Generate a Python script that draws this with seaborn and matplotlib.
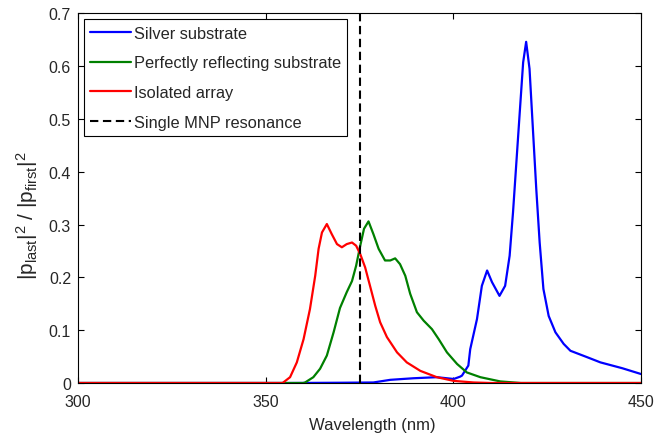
import matplotlib
matplotlib.use("Agg")
import matplotlib.pyplot as plt
import numpy as np
import pandas as pd
import seaborn as sns

# ---------------- data ----------------
silver_nm = [300, 356, 370, 378.7, 383.2, 389.4, 395.6, 400.1, 401.8, 402.3, 404.0,
             404.5, 406.3, 407.6, 409.0, 410.3, 412.3, 413.8, 415.0, 415.9, 416.8,
             417.7, 418.6, 419.4, 420.3, 421.2, 422.1, 423.0, 424.0, 425.4, 427.2,
             429.4, 431.2, 435.6, 439.2, 445.0, 450]
silver_val = [0.0, 0.0, 0.0005, 0.001, 0.006, 0.009, 0.011, 0.0076, 0.012, 0.014, 0.033,
              0.064, 0.121, 0.184, 0.213, 0.191, 0.165, 0.184, 0.241, 0.323, 0.418,
              0.513, 0.607, 0.646, 0.595, 0.481, 0.367, 0.266, 0.178, 0.127, 0.096,
              0.074, 0.061, 0.049, 0.039, 0.028, 0.017]

perfect_nm = [300, 360.0, 360.5, 362.7, 364.5, 366.3, 368.1, 369.8, 371.6, 373.0,
              374.1, 375.2, 376.2, 377.4, 378.7, 380.1, 381.8, 383.2, 384.5, 385.8,
              387.2, 388.5, 390.3, 392.1, 394.3, 396.1, 398.3, 401.0, 403.6, 407.2,
              412.5, 418, 450]
perfect_val = [0.0, 0.0, 0.001, 0.011, 0.027, 0.052, 0.096, 0.142, 0.172, 0.193,
               0.222, 0.260, 0.292, 0.306, 0.282, 0.254, 0.232, 0.232, 0.236, 0.225,
               0.203, 0.169, 0.134, 0.118, 0.102, 0.083, 0.058, 0.036, 0.020, 0.011,
               0.003, 0.0, 0.0]

isolated_nm = [300, 354.5, 356.5, 358.3, 360.1, 361.8, 363.2, 364.1, 365.0, 366.3,
               367.6, 369.0, 370.3, 371.6, 373.0, 374.1, 375.2, 376.5, 377.8, 379.2,
               380.5, 382.3, 385.0, 387.6, 391.2, 395.6, 400.1, 405.4, 410, 450]
isolated_val = [0.0, 0.0, 0.011, 0.039, 0.083, 0.140, 0.203, 0.254, 0.285, 0.301,
                0.282, 0.263, 0.257, 0.263, 0.266, 0.260, 0.244, 0.219, 0.184, 0.146,
                0.115, 0.087, 0.058, 0.039, 0.023, 0.011, 0.004, 0.001, 0.0, 0.0]

resonance_nm = 375

series_names = ["Silver substrate", "Perfectly reflecting substrate", "Isolated array"]
series_colors = ["#0000ff", "#008000", "#ff0000"]

x_ticks = [300, 350, 400, 450]
y_ticks = [0, 0.1, 0.2, 0.3, 0.4, 0.5, 0.6, 0.7]
y_tick_labels = ["0", "0.1", "0.2", "0.3", "0.4", "0.5", "0.6", "0.7"]

# ---------------- styling ----------------
sns.set_style("ticks")
plt.rcParams["font.family"] = ["Liberation Sans", "DejaVu Sans"]
plt.rcParams["mathtext.fontset"] = "custom"
plt.rcParams["mathtext.rm"] = "Liberation Sans"
plt.rcParams["mathtext.it"] = "Liberation Sans"
plt.rcParams["xtick.direction"] = "in"
plt.rcParams["ytick.direction"] = "in"
plt.rcParams["xtick.top"] = True
plt.rcParams["ytick.right"] = True

FS = 11.5

fig = plt.figure(figsize=(6.54, 4.35), dpi=100)
fig.patch.set_facecolor("white")
ax = fig.add_axes([78 / 654, 1 - 384 / 435, (641 - 78) / 654, (384 - 14.3) / 435])

frames = []
for name, nm, val in zip(series_names,
                         [silver_nm, perfect_nm, isolated_nm],
                         [silver_val, perfect_val, isolated_val]):
    frames.append(pd.DataFrame({"nm": nm, "val": val, "series": name}))
df = pd.concat(frames, ignore_index=True)

sns.lineplot(data=df, x="nm", y="val", hue="series", hue_order=series_names,
             palette=series_colors, estimator=None, sort=False, linewidth=1.6,
             ax=ax, legend=False)
for line, name in zip(ax.get_lines(), series_names):
    line.set_label(name)
    line.set_solid_joinstyle("round")

ax.axvline(resonance_nm, color="black", linestyle=(0, (4, 2.2)), linewidth=1.5,
           label="Single MNP resonance")

ax.set_xlim(300, 450)
ax.set_ylim(0, 0.7)
ax.set_xticks(x_ticks)
ax.set_xticklabels([str(t) for t in x_ticks])
ax.set_yticks(y_ticks)
ax.set_yticklabels(y_tick_labels)
ax.tick_params(axis="both", which="both", length=4, width=0.8, labelsize=FS,
               colors="black", labelcolor="#262626")
ax.tick_params(axis="x", pad=8)
ax.tick_params(axis="y", pad=5)
for sp in ax.spines.values():
    sp.set_visible(True)
    sp.set_color("black")
    sp.set_linewidth(0.8)

ax.set_xlabel("Wavelength (nm)", fontsize=FS + 0.5, color="#262626")
ax.xaxis.set_label_coords(0.523, -0.111)
ax.xaxis.label.set_va("center")
ax.set_ylabel(r"$|\mathrm{p}_{\mathrm{last}}|^2\ /\ |\mathrm{p}_{\mathrm{first}}|^2$",
              fontsize=15, color="#262626")
ax.yaxis.set_label_coords(-0.09, 0.454)
ax.yaxis.label.set_va("center")

leg = ax.legend(loc="upper left", fontsize=11.8, frameon=True, fancybox=False,
                edgecolor="black", framealpha=1, borderaxespad=0.35,
                borderpad=0.4, handlelength=2.5, handletextpad=0.15,
                labelspacing=0.9)
leg.get_frame().set_linewidth(0.8)
for t in leg.get_texts():
    t.set_color("#262626")

fig.savefig("out.png", dpi=100, facecolor="white")
